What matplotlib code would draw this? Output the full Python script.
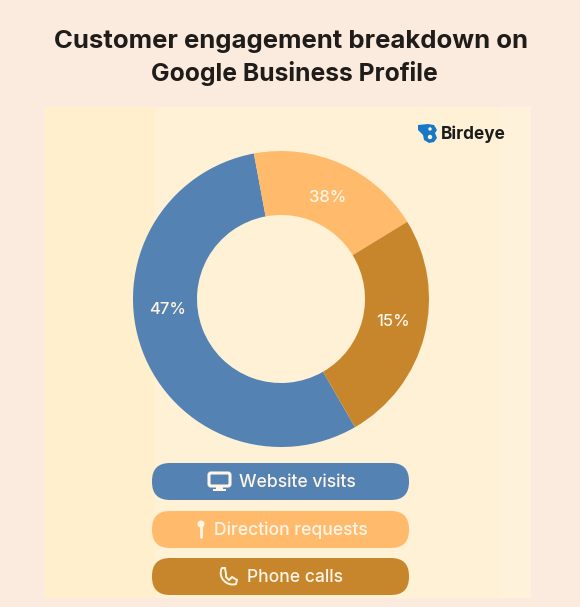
import matplotlib.pyplot as plt
from matplotlib.patches import FancyBboxPatch, Rectangle, Circle, PathPatch
from matplotlib.path import Path

# wedge sizes as drawn in the picture, the printed labels do not match them
categories = ["Website visits", "Direction requests", "Phone calls"]
wedge_sizes = [55.4, 19.2, 25.4]
wedge_labels = ["47%", "38%", "15%"]
colors = ["#5482b3", "#ffbb6b", "#c8862c"]

W, H = 580, 607
PAGE = "#fbebdf"
PANEL = "#fff1d6"

plt.rcParams["font.family"] = ["Inter", "DejaVu Sans"]

fig = plt.figure(figsize=(W / 100, H / 100), dpi=100, facecolor=PAGE)

# background axes in pixel coords, y going down
bg = fig.add_axes([0, 0, 1, 1])
bg.set_xlim(0, W)
bg.set_ylim(H, 0)
bg.axis("off")

bg.add_patch(Rectangle((44, 107), 487, 491, fc=PANEL, ec="none"))
bg.add_patch(Rectangle((44, 107), 111, 491, fc="#ffefcd", ec="none"))
bg.add_patch(Rectangle((500, 107), 31, 491, fc="#fff2db", ec="none"))

bg.text(291, 41.5, "Customer engagement breakdown on", ha="center", va="center",
        fontsize=18.5, fontweight="bold", color="#1f1c1a")
bg.text(294, 74, "Google Business Profile", ha="center", va="center",
        fontsize=17.8, fontweight="bold", color="#1f1c1a")

# donut
cx, cy, r = 281, 299, 148
ax = fig.add_axes([(cx - r) / W, 1 - (cy + r) / H, 2 * r / W, 2 * r / H])
ax.pie(wedge_sizes, colors=colors, startangle=300, counterclock=False, radius=1,
       wedgeprops={"width": 64 / 148, "linewidth": 0})
ax.set_xlim(-1, 1)
ax.set_ylim(-1, 1)

label_pos = [(168, 309), (328, 198), (393, 322)]
for txt, (x, y) in zip(wedge_labels, label_pos):
    ax.annotate(txt, xy=(x / W, 1 - y / H), xycoords="figure fraction", ha="center", va="center",
                fontsize=12, fontweight="medium", color="#fff6e8", zorder=5)

# legend pills
pill_y = [463, 511, 558]
pill_text_x = [297, 291, 295]
for name, col, y, tx in zip(categories, colors, pill_y, pill_text_x):
    bg.add_patch(FancyBboxPatch((152 + 18, y + 18), 257 - 36, 1, boxstyle="round,pad=18,rounding_size=18",
                                fc=col, ec="none"))
    bg.text(tx, y + 19.5, name, ha="center", va="center", fontsize=12.6, fontweight="medium", color="#fff6e8")

# monitor icon
ic = "#fff6e8"
bg.add_patch(FancyBboxPatch((209, 473), 21, 13, boxstyle="round,pad=0,rounding_size=2", fc="none", ec=ic, lw=2.2))
bg.add_patch(Rectangle((216, 487), 7, 3, fc=ic, ec="none"))
bg.add_patch(Rectangle((213, 489), 13, 1.5, fc=ic, ec="none"))

# pin icon
bg.add_patch(Circle((201, 524), 3.5, fc=ic, ec="none"))
bg.plot([201, 201], [526, 537], color=ic, lw=2, solid_capstyle="round")

# phone icon
phone = Path([(222, 568), (217, 577), (227, 587), (236, 584), (237, 580), (232, 577), (229, 580),
              (226, 577), (226, 574), (225, 568), (222, 568)],
             [Path.MOVETO, Path.CURVE4, Path.CURVE4, Path.CURVE4, Path.LINETO, Path.LINETO, Path.LINETO,
              Path.LINETO, Path.LINETO, Path.LINETO, Path.CLOSEPOLY])
bg.add_patch(PathPatch(phone, fc="none", ec=ic, lw=1.4))

# logo
bird = Path([(418, 125), (428, 124), (434, 125), (437, 130), (435, 133), (437, 138), (434, 142), (429, 143),
             (424, 140), (423, 135), (418, 130), (418, 125)])
bg.add_patch(PathPatch(bird, fc="#1878c8", ec="none"))
bg.add_patch(Circle((430, 129), 1.7, fc=PANEL, ec="none"))
bg.add_patch(Circle((430, 137), 2.2, fc=PANEL, ec="none"))
bg.text(441, 134.5, "Birdeye", ha="left", va="center", fontsize=12.4, fontweight="bold", color="#1c1c1c")

fig.savefig("out.png", dpi=100, facecolor=PAGE)
